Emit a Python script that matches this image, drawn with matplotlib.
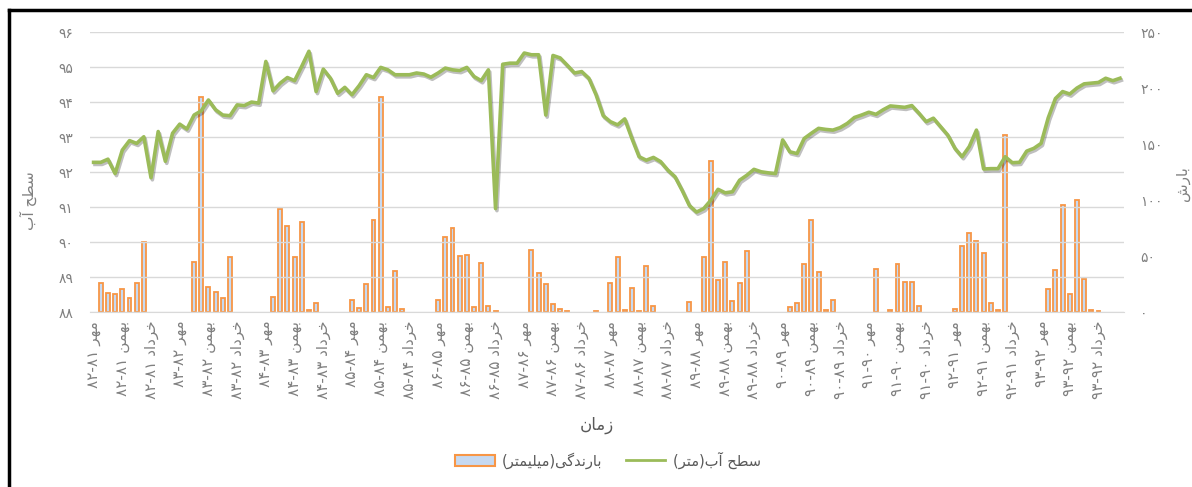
"""Water level vs. monthly rainfall."""
import matplotlib
matplotlib.use("Agg")
import matplotlib.pyplot as plt
import matplotlib.patheffects as pe
import numpy as np
from matplotlib.lines import Line2D
from matplotlib.patches import Patch
from matplotlib.ticker import FixedLocator, FuncFormatter

# monthly water level (m), Mehr 81 .. Shahrivar 93
water_level = [
    92.28, 92.28, 92.37, 91.96, 92.63, 92.90, 92.82, 93.01, 91.84, 93.16, 92.31, 93.11,
    93.37, 93.23, 93.63, 93.75, 94.06, 93.78, 93.63, 93.61, 93.92, 93.90, 94.00, 93.97,
    95.16, 94.32, 94.54, 94.70, 94.61, 95.02, 95.45, 94.30, 94.94, 94.68, 94.25, 94.42,
    94.21, 94.47, 94.78, 94.70, 94.99, 94.92, 94.78, 94.78, 94.78, 94.83, 94.80, 94.71,
    94.83, 94.97, 94.92, 94.90, 94.99, 94.73, 94.61, 94.92, 90.96, 95.08, 95.11, 95.11,
    95.40, 95.35, 95.35, 93.63, 95.33, 95.26, 95.05, 94.83, 94.87, 94.68, 94.21, 93.61,
    93.44, 93.35, 93.52, 92.96, 92.44, 92.34, 92.42, 92.30, 92.06, 91.87, 91.48, 91.05,
    90.86, 90.96, 91.20, 91.51, 91.41, 91.44, 91.77, 91.91, 92.08, 92.01, 91.98, 91.96,
    92.92, 92.58, 92.53, 92.96, 93.11, 93.25, 93.22, 93.20, 93.27, 93.39, 93.56, 93.63,
    93.71, 93.65, 93.78, 93.89, 93.87, 93.85, 93.90, 93.68, 93.44, 93.54, 93.30, 93.06,
    92.68, 92.44, 92.73, 93.20, 92.09, 92.10, 92.10, 92.44, 92.27, 92.28, 92.60, 92.68,
    92.82, 93.55, 94.10, 94.30, 94.23, 94.40, 94.52, 94.54, 94.56, 94.68, 94.61, 94.68,
]

# monthly rainfall (mm)
rain_mm = [
    0, 26, 17, 16, 21, 12.5, 26, 63, 0, 0, 0, 0,
    0, 0, 45, 192, 23, 18, 13, 49, 0, 0, 0, 0,
    0, 14, 92, 77, 49, 80.5, 2, 8, 0, 0, 0, 0,
    10.7, 4, 25, 82, 192, 5, 37, 2.7, 0, 0, 0, 0,
    10.7, 67, 75, 50, 51, 5, 44, 6, 1.2, 0, 0, 0,
    0, 56, 35, 25, 7.5, 3.3, 1.2, 0, 0, 0, 0.9, 0,
    26, 49, 2, 21.5, 1, 41, 6, 0, 0, 0, 0, 9,
    0, 49.5, 135, 29, 45, 10, 26, 55, 0, 0, 0, 0,
    0, 5, 8.4, 43, 82, 35.5, 2, 10.7, 0, 0, 0, 0,
    0, 39, 0, 1.8, 42.7, 27, 27, 5.7, 0, 0, 0, 0,
    2.7, 59, 70.7, 64, 53, 8.4, 1.8, 158, 0, 0, 0, 0,
    0, 20.6, 38, 96, 16.4, 100.5, 30, 1.8, 0.9, 0, 0, 0,
]

tick_months = ["مهر", "بهمن", "خرداد"]
water_years = list(range(81, 93))
level_ticks = [88, 89, 90, 91, 92, 93, 94, 95, 96]
rain_ticks = [0, 50, 100, 150, 200, 250]

x_title = "زمان"
left_title = "سطح آب"
right_title = "بارش"
rain_legend = "بارندگی(میلیمتر)"
level_legend = "سطح آب(متر)"

# Arabic letter forms: isolated, final, initial, medial
FORMS = {
    "ا": ("\uFE8D", "\uFE8E", None, None),
    "آ": ("\uFE81", "\uFE82", None, None),
    "ب": ("\uFE8F", "\uFE90", "\uFE91", "\uFE92"),
    "ت": ("\uFE95", "\uFE96", "\uFE97", "\uFE98"),
    "ح": ("\uFEA1", "\uFEA2", "\uFEA3", "\uFEA4"),
    "خ": ("\uFEA5", "\uFEA6", "\uFEA7", "\uFEA8"),
    "د": ("\uFEA9", "\uFEAA", None, None),
    "ر": ("\uFEAD", "\uFEAE", None, None),
    "ز": ("\uFEAF", "\uFEB0", None, None),
    "س": ("\uFEB1", "\uFEB2", "\uFEB3", "\uFEB4"),
    "ش": ("\uFEB5", "\uFEB6", "\uFEB7", "\uFEB8"),
    "ط": ("\uFEC1", "\uFEC2", "\uFEC3", "\uFEC4"),
    "ل": ("\uFEDD", "\uFEDE", "\uFEDF", "\uFEE0"),
    "م": ("\uFEE1", "\uFEE2", "\uFEE3", "\uFEE4"),
    "ن": ("\uFEE5", "\uFEE6", "\uFEE7", "\uFEE8"),
    "ه": ("\uFEE9", "\uFEEA", "\uFEEB", "\uFEEC"),
    "گ": ("\uFB92", "\uFB93", "\uFB94", "\uFB95"),
    "ی": ("\uFBFC", "\uFBFD", "\uFBFE", "\uFBFF"),
}
MIRROR = {"(": ")", ")": "("}


def rtl(text):
    """Shape Persian text and put it in visual (left-to-right) order."""
    out = []
    for k, ch in enumerate(text):
        if ch not in FORMS:
            out.append(MIRROR.get(ch, ch))
            continue
        iso, fin, ini, med = FORMS[ch]
        prev = text[k - 1] if k > 0 else ""
        nxt = text[k + 1] if k + 1 < len(text) else ""
        join_prev = prev in FORMS and FORMS[prev][2] is not None
        join_next = ini is not None and nxt in FORMS
        if join_prev and join_next:
            out.append(med)
        elif join_prev:
            out.append(fin)
        elif join_next:
            out.append(ini)
        else:
            out.append(iso)
    return "".join(reversed(out))


def fa(n):
    return str(n).translate(str.maketrans("0123456789", "۰۱۲۳۴۵۶۷۸۹"))


plt.rcParams["font.family"] = ["DejaVu Sans"]
GRAY = "#808080"
ORANGE = "#F79646"
BLUE = "#C6D9F1"
GREEN = "#9BBB59"

fig = plt.figure(figsize=(11.92, 4.87), dpi=100)
ax = fig.add_axes([90 / 1192, 1 - 312.3 / 487, 1033.6 / 1192, 280.3 / 487])
ax2 = ax.twinx()
ax.set_zorder(ax2.get_zorder() + 1)
ax.patch.set_visible(False)

x = np.arange(len(water_level))
rain = np.array(rain_mm)
wet = rain > 0
ax2.bar(x[wet], rain[wet], width=0.55, color=BLUE, edgecolor=ORANGE,
        linewidth=1.3, zorder=2)

ax.plot(x, water_level, color=GREEN, linewidth=2.6, solid_joinstyle="round",
        path_effects=[pe.SimpleLineShadow(offset=(1, -1.5), alpha=0.25),
                      pe.Normal()])

ax.set_xlim(-0.5, len(water_level) - 0.5)
ax.set_ylim(88, 96)
ax2.set_ylim(0, 250)

ax.yaxis.set_major_locator(FixedLocator(level_ticks))
ax.yaxis.set_major_formatter(FuncFormatter(lambda v, p: fa(int(round(v)))))
ax2.yaxis.set_major_locator(FixedLocator(rain_ticks))
ax2.yaxis.set_major_formatter(FuncFormatter(lambda v, p: fa(int(round(v)))))
ax.grid(axis="y", color="#D9D9D9", linewidth=1)

labels = []
for yr in water_years:
    for m in tick_months:
        labels.append(f"{fa(yr + 1)}-{fa(yr)} " + rtl(m))
ax.set_xticks(np.arange(0, len(water_level), 4))
ax.set_xticklabels(labels, rotation=90, fontsize=11, color=GRAY)

for a in (ax, ax2):
    for s in a.spines.values():
        s.set_visible(False)
    a.tick_params(length=0)
ax.spines["bottom"].set_visible(True)
ax.spines["bottom"].set_color("#D9D9D9")
ax.tick_params(axis="x", pad=6)
ax.tick_params(axis="y", labelsize=10, labelcolor=GRAY, pad=12)
ax2.tick_params(axis="y", labelsize=10, labelcolor=GRAY, pad=12)

ax.set_ylabel(rtl(left_title), fontsize=11, color=GRAY, rotation=90)
ax.yaxis.set_label_coords(-0.051, 0.40)
ax2.set_ylabel(rtl(right_title), fontsize=11, color=GRAY, rotation=90)
ax2.yaxis.set_label_coords(1.05, 0.46)

fig.text(597 / 1192, 1 - 425 / 487, rtl(x_title), fontsize=12, color="#595959",
         ha="center", va="center")

handles = [
    Patch(facecolor=BLUE, edgecolor=ORANGE, linewidth=1.5),
    Line2D([], [], color=GREEN, linewidth=2),
]
fig.legend(handles, [rtl(rain_legend), rtl(level_legend)], ncol=2,
           loc="center", bbox_to_anchor=(608 / 1192, 1 - 460 / 487),
           frameon=False, fontsize=10.5, labelcolor="#595959",
           handlelength=2.7, handleheight=0.8, columnspacing=1.6,
           handletextpad=0.5)

# frame edges of the cropped chart
fig.add_artist(Line2D([9 / 1192, 9 / 1192], [0, 1 - 10 / 487], color="black",
                      linewidth=2.5))
fig.add_artist(Line2D([9 / 1192, 1], [1 - 10 / 487, 1 - 10 / 487],
                      color="black", linewidth=2.5))

fig.savefig("out.png", dpi=100)
